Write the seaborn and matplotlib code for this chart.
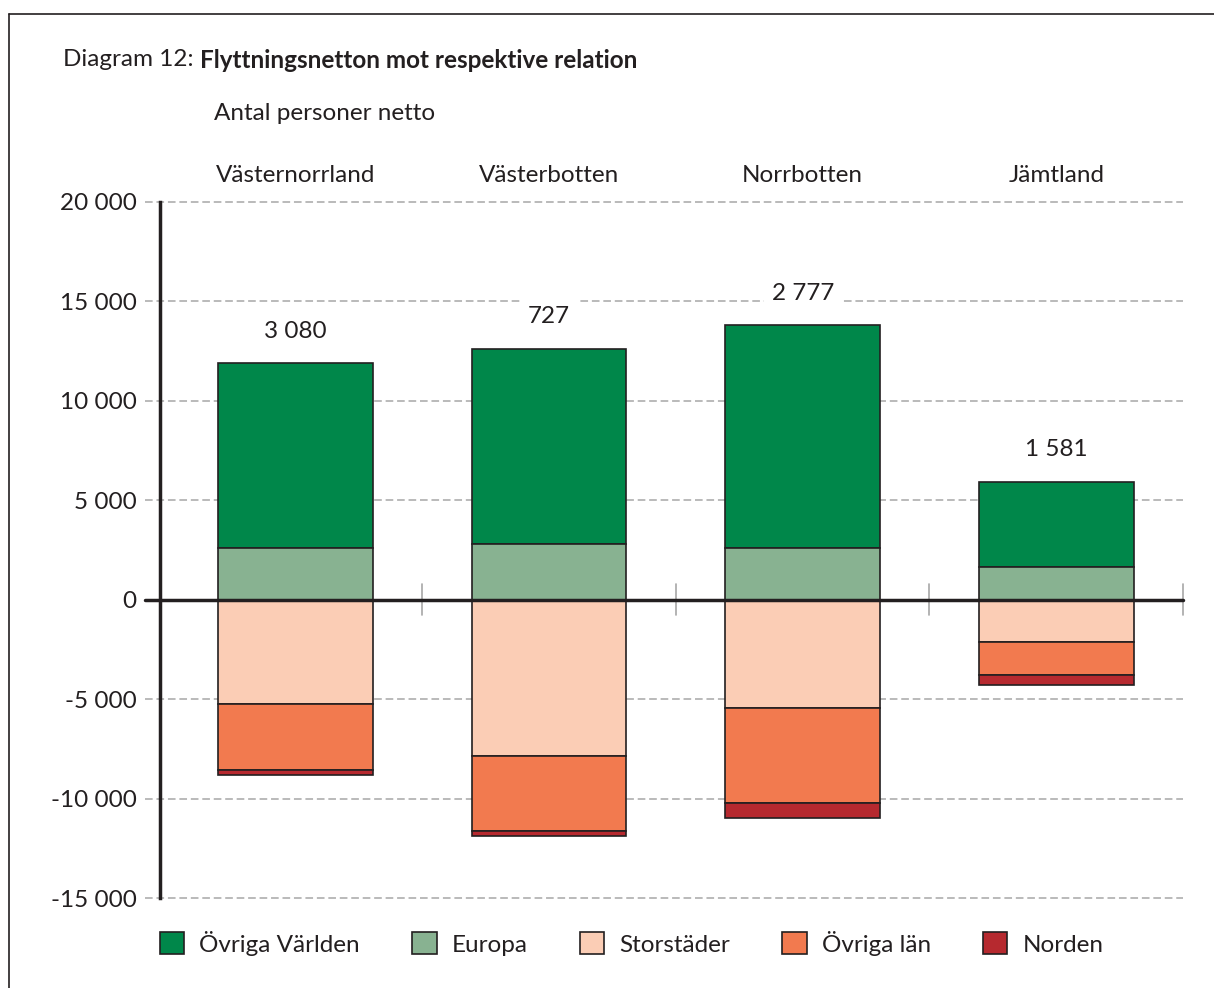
import matplotlib
matplotlib.use("Agg")
import matplotlib.pyplot as plt
from matplotlib.lines import Line2D
from matplotlib.ticker import FuncFormatter
import seaborn as sns
import numpy as np

# Data
regions = ["Västernorrland", "Västerbotten", "Norrbotten", "Jämtland"]
ovriga_varlden = [9290, 9800, 11200, 4280]
europa = [2610, 2820, 2610, 1650]
storstader = [-5220, -7840, -5470, -2130]
ovriga_lan = [-3340, -3810, -4750, -1650]
norden = [-270, -250, -740, -500]
net_labels = ["3 080", "727", "2 777", "1 581"]

series_names = ["Övriga Världen", "Europa", "Storstäder", "Övriga län", "Norden"]
colors = ["#00874A", "#88B291", "#FBCDB5", "#F27A4F", "#B6292F"]

sns.set_style("white")
plt.rcParams['font.family'] = ['Lato', 'DejaVu Sans']
dark = "#231F20"
fs = 17.5

fig = plt.figure(figsize=(12.14, 9.88), dpi=100)
ax = fig.add_axes([160 / 1214, 90 / 988, (1183 - 160) / 1214, (898 - 202) / 988])

# stacking bottoms
zeros = np.zeros(len(regions))
eu = np.array(europa)
st = np.array(storstader)
ol = np.array(ovriga_lan)
bottoms = [eu, zeros, zeros, st, st + ol]
values = [ovriga_varlden, europa, storstader, ovriga_lan, norden]

for name, vals, bot, c in zip(series_names, values, bottoms, colors):
    sns.barplot(x=regions, y=vals, bottom=bot, color=c, width=0.61,
                edgecolor=dark, linewidth=1.2, saturation=1, label=name, ax=ax)

ax.set_xlim(-0.535, 3.5)
ax.set_ylim(-15000, 20000)
ax.set_xticks([])
ax.set_xlabel("")
ax.set_yticks(np.arange(-15000, 20001, 5000))
ax.yaxis.set_major_formatter(FuncFormatter(lambda v, p: f"{int(v):,}".replace(",", " ")))
ax.tick_params(axis="y", length=0, pad=17, labelsize=fs, labelcolor=dark)
for s in ["top", "right", "bottom"]:
    ax.spines[s].set_visible(False)
ax.spines["left"].set_color(dark)
ax.spines["left"].set_linewidth(2.5)
ax.spines["left"].set_zorder(5)

# dashed grid lines, extending left past the axis as tick marks
for yv in [20000, 15000, 10000, 5000, -5000, -10000, -15000]:
    ax.axhline(yv, xmin=-0.0147, xmax=1, color="#A7A7A7", lw=1.1,
               dashes=(5, 2.5), clip_on=False, zorder=0)
ax.axhline(0, xmin=-0.0147, xmax=1, color=dark, lw=2.5, clip_on=False, zorder=4)

# small separators on the zero line
for i in range(len(regions)):
    ax.plot([i + 0.5, i + 0.5], [-780, 780], color="#A7A7A7", lw=1.2,
            clip_on=False, zorder=3)

# region headers
for i, r in enumerate(regions):
    ax.text(i, 1.0 + 27 / 696, r, transform=ax.get_xaxis_transform(),
            ha="center", va="center", fontsize=fs, color=dark)

# net values above bars
tops = eu + np.array(ovriga_varlden)
for i, lab in enumerate(net_labels):
    ax.annotate(lab, (i, tops[i]), xytext=(0, 23), textcoords="offset points",
                ha="center", va="center", fontsize=fs, color=dark,
                bbox=dict(boxstyle="square,pad=0.3", fc="white", ec="none"))

# legend
handles, labels = ax.get_legend_handles_labels()
if ax.get_legend():
    ax.get_legend().remove()
fig.legend(handles, labels, loc="center left", bbox_to_anchor=(160 / 1214, 1 - 943 / 988),
           ncol=5, frameon=False, fontsize=fs, handlelength=1.0, handleheight=1.0,
           handletextpad=0.62, columnspacing=2.15, borderpad=0, borderaxespad=0,
           labelcolor=dark)

# titles
t1 = fig.text(63 / 1214, 1 - 60 / 988, "Diagram 12: ", fontsize=fs, color=dark, va="center")
fig.canvas.draw()
bb = t1.get_window_extent(fig.canvas.get_renderer())
fig.text(bb.x1 / 1214, 1 - 60 / 988, "Flyttningsnetton mot respektive relation",
         fontsize=fs, fontweight="bold", color=dark, va="center")
fig.text(214 / 1214, 1 - 114 / 988, "Antal personer netto", fontsize=fs, color=dark, va="center")

# outer frame
fig.add_artist(Line2D([9 / 1214, 1.0], [1 - 14 / 988, 1 - 14 / 988], color=dark, lw=1.2,
                      transform=fig.transFigure))
fig.add_artist(Line2D([9 / 1214, 9 / 1214], [0, 1 - 14 / 988], color=dark, lw=1.2,
                      transform=fig.transFigure))

fig.savefig("out.png", dpi=100, facecolor="white")
